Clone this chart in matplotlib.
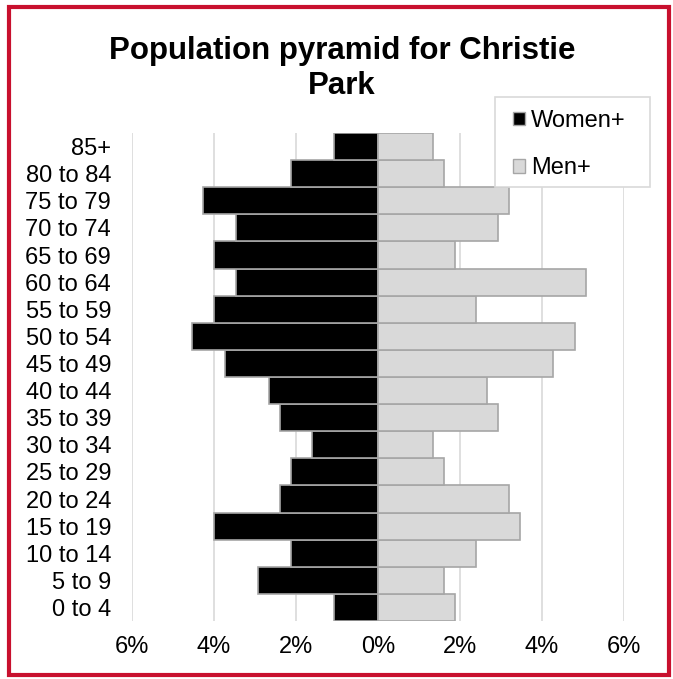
import matplotlib.pyplot as plt
from matplotlib.patches import Patch, Rectangle

plt.rcParams['font.family'] = ['Liberation Sans', 'DejaVu Sans']

# age groups from youngest to oldest (bottom to top)
ages = ["0 to 4", "5 to 9", "10 to 14", "15 to 19", "20 to 24", "25 to 29",
        "30 to 34", "35 to 39", "40 to 44", "45 to 49", "50 to 54", "55 to 59",
        "60 to 64", "65 to 69", "70 to 74", "75 to 79", "80 to 84", "85+"]
women = [1.07, 2.93, 2.13, 4.00, 2.40, 2.13, 1.60, 2.40, 2.67, 3.73, 4.53, 4.00,
         3.47, 4.00, 3.47, 4.27, 2.13, 1.07]
men = [1.87, 1.60, 2.40, 3.47, 3.20, 1.60, 1.33, 2.93, 2.67, 4.27, 4.80, 2.40,
       5.07, 1.87, 2.93, 3.20, 1.60, 1.33]
xticks = [-6, -4, -2, 0, 2, 4, 6]

fig = plt.figure(figsize=(6.73, 6.79), dpi=100)
ax = fig.add_axes([132/673, 1 - 621/679, 492/673, 488/679])

y = range(len(ages))
ax.barh(y, [-w for w in women], height=1.0, color='black', edgecolor='#a6a6a6',
        linewidth=1.2, zorder=3)
ax.barh(y, men, height=1.0, color='#d9d9d9', edgecolor='#a6a6a6',
        linewidth=1.2, zorder=3)

ax.set_xlim(-6, 6)
ax.set_ylim(-0.5, len(ages) - 0.5)
ax.set_xticks(xticks)
ax.set_xticklabels([f"{abs(t)}%" for t in xticks], fontsize=17)
ax.set_yticks(list(y))
ax.set_yticklabels(ages, fontsize=17)
ax.tick_params(axis='both', length=0)
ax.tick_params(axis='y', pad=15)
ax.tick_params(axis='x', pad=11)
ax.grid(axis='x', color='#d9d9d9', linewidth=1.2, zorder=0)
for s in ax.spines.values():
    s.set_visible(False)

fig.text(0.508, 1 - 51/679, "Population pyramid for Christie", ha='center',
         va='center', fontsize=22.5, fontweight='bold')
fig.text(0.508, 1 - 86/679, "Park", ha='center', va='center',
         fontsize=22.5, fontweight='bold')

# legend box drawn separately so its padding matches the original
fig.patches.append(Rectangle((495/673, 1 - 187/679), 155/673, 90/679,
                             transform=fig.transFigure, facecolor='white',
                             edgecolor='#d9d9d9', linewidth=1.2, zorder=5))
handles = [Patch(facecolor='black', edgecolor='#a6a6a6', label='Women+'),
           Patch(facecolor='#d9d9d9', edgecolor='#a6a6a6', label='Men+')]
leg = fig.legend(handles=handles, loc='upper left', bbox_to_anchor=(513/673, 1 - 110/679),
                 fontsize=17, frameon=False, handlelength=0.5, handleheight=0.5,
                 handletextpad=0.25, labelspacing=1.08, borderpad=0, borderaxespad=0)
leg.set_zorder(6)

fig.patches.append(Rectangle((9/673, 4/679), 660/673, 668/679, transform=fig.transFigure,
                             fill=False, edgecolor='#C8102E', linewidth=3))

fig.savefig('out.png', dpi=100)
